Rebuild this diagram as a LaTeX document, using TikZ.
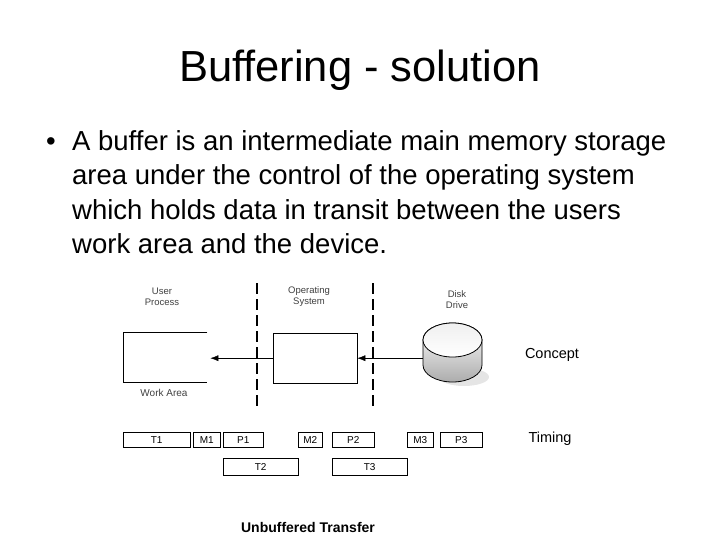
\documentclass[tikz,border=0pt]{standalone}
\usepackage{fontspec}
\setmainfont{Liberation Sans}
\usetikzlibrary{positioning,arrows.meta}

\begin{document}
\begin{tikzpicture}[x=1pt, y=-1pt, >={Latex[length=8pt,width=6pt]}, font=\fontsize{10}{12}\selectfont]
    \tikzset{
        bodytext/.style={anchor=base west, inner sep=0pt, font=\fontsize{27.5}{34}\selectfont},
        slot/.style={draw, anchor=north west, minimum height=15, inner sep=0pt, font=\fontsize{10}{12}\selectfont},
        lbl/.style={align=center, text=black!75, font=\fontsize{9.5}{11}\selectfont},
        side/.style={font=\fontsize{14.5}{17}\selectfont},
        divider/.style={line width=1.4pt, dash pattern=on 11pt off 5pt},
    }
    \useasboundingbox (0,0) rectangle (720,540);

    \node (title) at (360,82) [anchor=base, font=\fontsize{43.5}{50}\selectfont] {Buffering - solution};
    \node (bullet) at (51,151) [anchor=base, inner sep=0pt, font=\fontsize{27.5}{34}\selectfont] {\textbullet};
    \node (line1) [bodytext] at (72,151) {A buffer is an intermediate main memory storage};
    \node (line2) [bodytext] at ([yshift=-34pt]line1.base west) {area under the control of the operating system};
    \node (line3) [bodytext] at ([yshift=-34pt]line2.base west) {which holds data in transit between the users};
    \node (line4) [bodytext] at ([yshift=-34pt]line3.base west) {work area and the device.};

    % concept part
    \node (user) [lbl] at (162,297) {User\\Process};
    \node (opsys) [lbl] at (309,297) {Operating\\System};
    \node (drive) [lbl] at (457,300) {Disk\\Drive};
    \node (work) [minimum width=84, minimum height=50, anchor=north west, inner sep=0pt] at (123,332) {};
    \draw (work.north east) -- (work.north west) -- (work.south west) -- (work.south east);
    \node (worklbl) [lbl, font=\fontsize{10}{12}\selectfont] at (164,393) {Work Area};
    \node (os) [draw, minimum width=84, minimum height=50, anchor=north west, inner sep=0pt] at (273,333) {};
    \draw[divider] (257,283) -- (257,408);
    \draw[divider] (373,283) -- (373,408);
    % disk drive
    \node (disk) [minimum width=59, minimum height=59, inner sep=0pt] at (452.5,352.5) {};
    \fill[gray!20] (464,377) ellipse (25 and 9);
    \shade[top color=white, bottom color=gray!65, draw, line width=0.8pt]
        (423,340) -- (423,365) arc[start angle=180, end angle=0, x radius=29.5, y radius=17]
        -- (482,340) arc[start angle=0, end angle=-180, x radius=29.5, y radius=17] -- cycle;
    \shade[top color=gray!12, bottom color=white, draw, line width=0.8pt] (452.5,340) ellipse (29.5 and 17);
    \draw[->] (disk.west |- os.east) -- (os.east);
    \draw[->, shorten >=3pt] (os.west) -- (work.east |- os.west);
    \node (concept) [side] at (552,355) {Concept};

    % timing part
    \node (T1) [slot, minimum width=67] at (123,432) {T1};
    \node (M1) [slot, minimum width=27] at (193,432) {M1};
    \node (P1) [slot, minimum width=40] at (223,432) {P1};
    \node (M2) [slot, minimum width=24] at (298,432) {M2};
    \node (P2) [slot, minimum width=42] at (332,432) {P2};
    \node (M3) [slot, minimum width=26] at (407,432) {M3};
    \node (P3) [slot, minimum width=42] at (440,432) {P3};
    \node (T2) [slot, minimum width=75, minimum height=17] at (223,458) {T2};
    \node (T3) [slot, minimum width=75, minimum height=17] at (332,458) {T3};
    \node (timing) [side] at (550,439) {Timing};

    \node (caption) at (308,527) [font=\bfseries\fontsize{14}{16}\selectfont] {Unbuffered Transfer};
\end{tikzpicture}
\end{document}
